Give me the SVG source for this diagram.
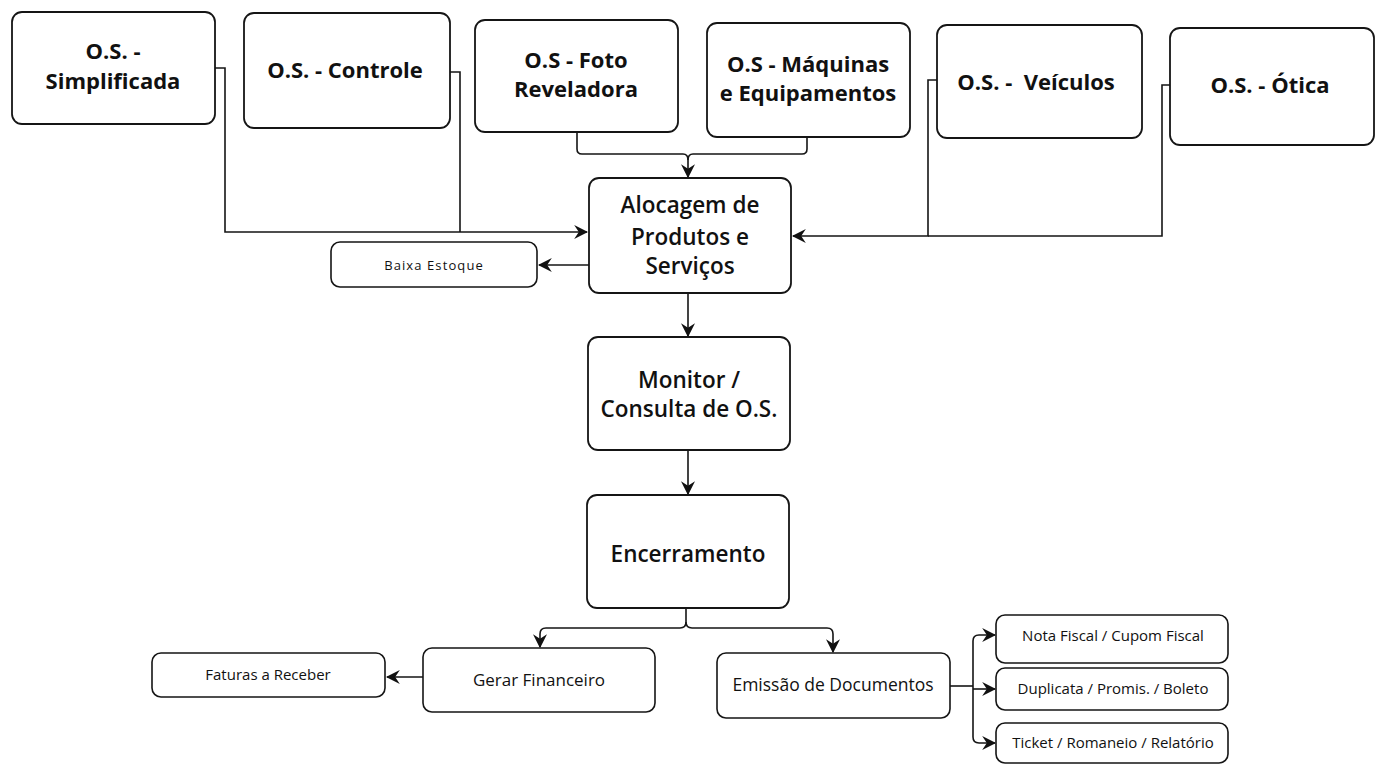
<svg xmlns="http://www.w3.org/2000/svg" width="1384" height="766" viewBox="0 0 1384 766">
<defs>
<style>
.box{fill:#fff;stroke:#151515;stroke-width:1.8}
.sm{fill:#fff;stroke:#151515;stroke-width:1.6}
.t1{font-family:"Open Sans","Noto Sans",sans-serif;font-weight:700;font-size:22px;fill:#111;text-anchor:middle}
.t2{font-family:"Open Sans","Noto Sans",sans-serif;font-weight:600;font-size:22.5px;fill:#111;text-anchor:middle}
.t3{font-family:"Open Sans","Noto Sans",sans-serif;font-weight:400;font-size:15px;fill:#111;text-anchor:middle}
.ln{fill:none;stroke:#151515;stroke-width:1.6}
</style>
<marker id="ar" viewBox="0 0 12 12" refX="11" refY="6" markerWidth="14" markerHeight="14" markerUnits="userSpaceOnUse" orient="auto">
<path d="M0,0 L12,6 L0,12 L4,6 z" fill="#111"/>
</marker>
</defs>
<rect width="1384" height="766" fill="#fff"/>

<g id="connectors">
<path class="ln" d="M215,68 H225 V232 H587" marker-end="url(#ar)"/>
<path class="ln" d="M450,72 H460 V232"/>
<path class="ln" d="M577,132 V149 Q577,154 582,154 H683 Q688,154 688,160 V177" marker-end="url(#ar)"/>
<path class="ln" d="M807,137 V149 Q807,154 802,154 H693 Q688,154 688,160"/>
<path class="ln" d="M937,80 H928 V236 H793" marker-end="url(#ar)"/>
<path class="ln" d="M1170,85 H1162 V236 H928"/>
<path class="ln" d="M589,265 H539" marker-end="url(#ar)"/>
<path class="ln" d="M688,293 V336" marker-end="url(#ar)"/>
<path class="ln" d="M688,450 V494" marker-end="url(#ar)"/>
<path class="ln" d="M686,608 V622 Q686,628 680,628 H546 Q540,628 540,634 V647" marker-end="url(#ar)"/>
<path class="ln" d="M686,622 Q686,628 692,628 H827 Q833,628 833,634 V652" marker-end="url(#ar)"/>
<path class="ln" d="M423,677 H387" marker-end="url(#ar)"/>
<path class="ln" d="M950,686 H973"/>
<path class="ln" d="M973,686 V641 Q973,635 979,635 H995" marker-end="url(#ar)"/>
<path class="ln" d="M973,689 H995" marker-end="url(#ar)"/>
<path class="ln" d="M973,686 V737 Q973,743 979,743 H995" marker-end="url(#ar)"/>
</g>

<g id="os-simplificada">
<rect class="box" x="12" y="12" width="203" height="112" rx="10"/>
<text class="t1" x="113" y="59">O.S. -</text>
<text class="t1" x="113" y="89">Simplificada</text>
</g>
<g id="os-controle">
<rect class="box" x="244" y="13" width="206" height="115" rx="10"/>
<text class="t1" x="345" y="78">O.S. - Controle</text>
</g>
<g id="os-foto">
<rect class="box" x="475" y="20" width="203" height="112" rx="10"/>
<text class="t1" x="576" y="68">O.S - Foto</text>
<text class="t1" x="576" y="97">Reveladora</text>
</g>
<g id="os-maquinas">
<rect class="box" x="707" y="23" width="203" height="114" rx="10"/>
<text class="t1" x="808" y="72">O.S - Máquinas</text>
<text class="t1" x="808" y="101">e Equipamentos</text>
</g>
<g id="os-veiculos">
<rect class="box" x="937" y="25" width="205" height="113" rx="10"/>
<text class="t1" x="1036" y="90">O.S. -&#160; Veículos</text>
</g>
<g id="os-otica">
<rect class="box" x="1170" y="28" width="204" height="117" rx="10"/>
<text class="t1" x="1270" y="93">O.S. - Ótica</text>
</g>
<g id="alocagem">
<rect class="box" x="589" y="178" width="202" height="115" rx="10"/>
<text class="t2" x="690" y="213">Alocagem de</text>
<text class="t2" x="690" y="245">Produtos e</text>
<text class="t2" x="690" y="274">Serviços</text>
</g>
<g id="baixa-estoque">
<rect class="sm" x="331" y="242" width="206" height="45" rx="9"/>
<text class="t3" x="434" y="270" style="font-size:13px;letter-spacing:1.1px">Baixa Estoque</text>
</g>
<g id="monitor">
<rect class="box" x="588" y="337" width="202" height="113" rx="10"/>
<text class="t2" x="689" y="388">Monitor /</text>
<text class="t2" x="689" y="417">Consulta de O.S.</text>
</g>
<g id="encerramento">
<rect class="box" x="587" y="495" width="202" height="113" rx="10"/>
<text class="t2" x="688" y="562">Encerramento</text>
</g>
<g id="faturas">
<rect class="sm" x="152" y="653" width="233" height="44" rx="9"/>
<text class="t3" x="268" y="680" style="font-size:15px">Faturas a Receber</text>
</g>
<g id="gerar-financeiro">
<rect class="sm" x="423" y="648" width="232" height="64" rx="9"/>
<text class="t3" x="539" y="686" style="font-size:17px">Gerar Financeiro</text>
</g>
<g id="emissao">
<rect class="sm" x="717" y="653" width="233" height="65" rx="9"/>
<text class="t3" x="833" y="691" style="font-size:17.5px">Emissão de Documentos</text>
</g>
<g id="nota-fiscal">
<rect class="sm" x="996" y="615" width="232" height="48" rx="9"/>
<text class="t3" x="1113" y="641">Nota Fiscal / Cupom Fiscal</text>
</g>
<g id="duplicata">
<rect class="sm" x="996" y="668" width="232" height="42" rx="9"/>
<text class="t3" x="1113" y="694">Duplicata / Promis. / Boleto</text>
</g>
<g id="ticket">
<rect class="sm" x="996" y="723" width="232" height="40" rx="9"/>
<text class="t3" x="1113" y="748">Ticket / Romaneio / Relatório</text>
</g>
</svg>
